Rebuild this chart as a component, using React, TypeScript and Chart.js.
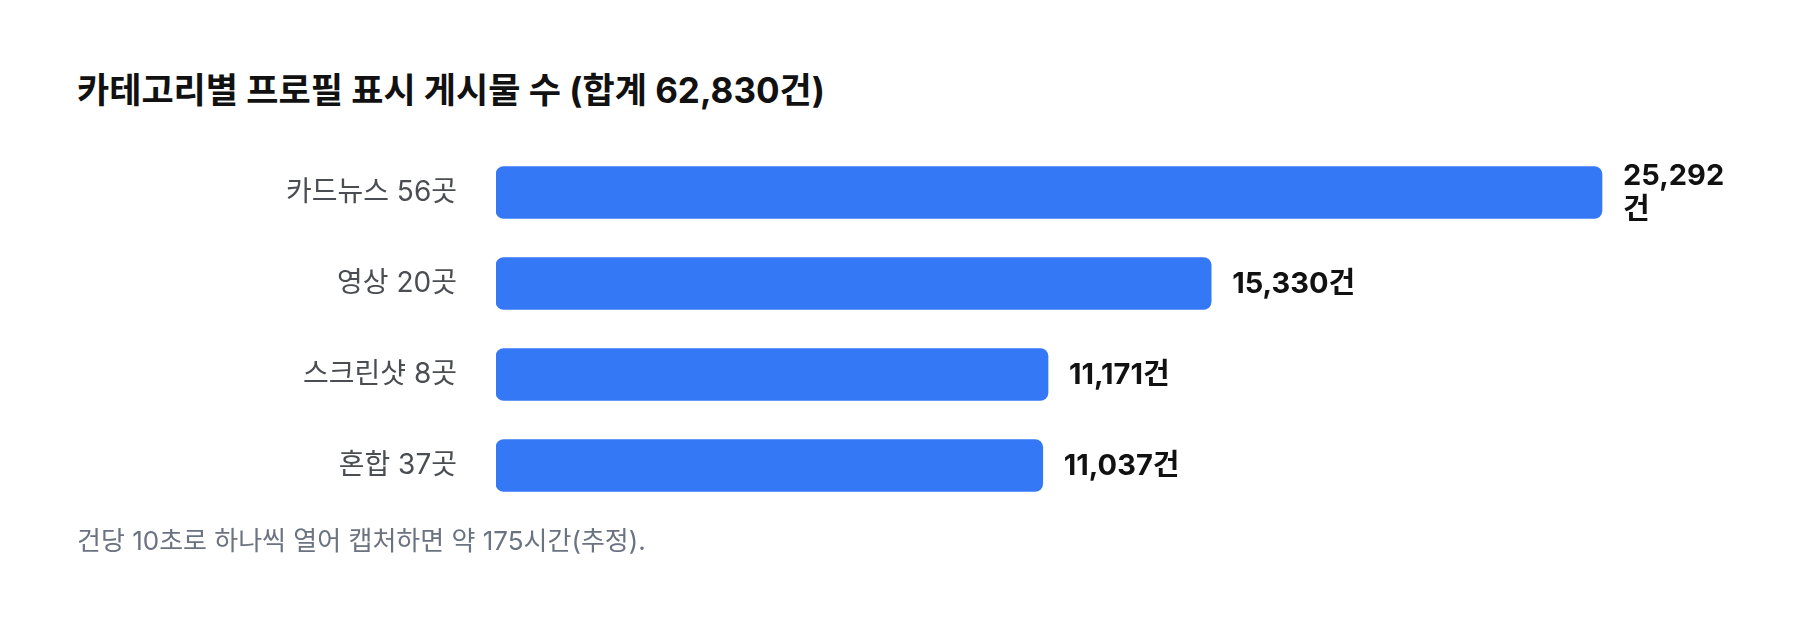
import React, { useEffect, useRef } from "react";
import { Chart, registerables } from "chart.js";

Chart.register(...registerables);

const categories: string[] = ["카드뉴스 56곳", "영상 20곳", "스크린샷 8곳", "혼합 37곳"];
const postCounts: number[] = [25292, 15330, 11171, 11037];
const titleText = "카테고리별 프로필 표시 게시물 수 (합계 62,830건)";
const footerText = "건당 10초로 하나씩 열어 캡처하면 약 175시간(추정).";
const valueSuffix = "건";

// hidden value-axis range (bars start at the axis minimum)
const axisMin = -2900;
const axisMax = 28300;

const FONT = 'Inter, "Noto Sans CJK KR", sans-serif';

const valueLabelPlugin = {
  id: "valueLabels",
  afterDatasetsDraw(chart: any) {
    const ctx = chart.ctx;
    const meta = chart.getDatasetMeta(0);
    ctx.save();
    ctx.font = `bold 29px ${FONT}`;
    ctx.fillStyle = "#111111";
    ctx.textBaseline = "middle";
    ctx.textAlign = "left";
    meta.data.forEach((bar: any, i: number) => {
      const num = postCounts[i].toLocaleString("en-US");
      const full = num + valueSuffix;
      const x = bar.x + 21;
      const y = bar.y;
      if (x + ctx.measureText(full).width > 1730) {
        ctx.fillText(num, x, y - 16);
        ctx.fillText(valueSuffix, x, y + 18);
      } else {
        ctx.fillText(full, x, y + 1);
      }
    });
    ctx.restore();
  },
};

export default function App() {
  const canvasRef = useRef<HTMLCanvasElement | null>(null);

  useEffect(() => {
    if (!canvasRef.current) return;
    const chart = new Chart(canvasRef.current, {
      type: "bar",
      data: {
        labels: categories,
        datasets: [
          {
            data: postCounts,
            base: axisMin,
            backgroundColor: "#3478f6",
            borderRadius: 8,
            borderSkipped: false,
            barThickness: 52,
          },
        ],
      },
      options: {
        indexAxis: "y",
        responsive: false,
        animation: false,
        events: [],
        layout: { padding: { top: 147, bottom: 113, left: 0, right: 80 } },
        plugins: {
          legend: { display: false },
          tooltip: { enabled: false },
          title: { display: false },
        },
        scales: {
          x: { display: false, min: axisMin, max: axisMax },
          y: {
            type: "category",
            grid: { display: false },
            border: { display: false },
            ticks: {
              padding: 31,
              color: "#4a4d52",
              font: { family: FONT, size: 28, weight: "normal" },
            },
            afterFit(scale: any) {
              scale.width = 496;
            },
          },
        },
      },
      plugins: [valueLabelPlugin],
    });
    return () => chart.destroy();
  }, []);

  return (
    <div style={{ position: "absolute", left: 0, top: 0, width: 1800, height: 624, background: "#ffffff" }}>
      <div
        style={{
          position: "absolute",
          left: 77,
          top: 70,
          fontFamily: FONT,
          fontWeight: 700,
          fontSize: 35,
          lineHeight: "40px",
          color: "#111111",
          whiteSpace: "nowrap",
        }}
      >
        {titleText}
      </div>
      <canvas ref={canvasRef} width={1800} height={624} style={{ position: "absolute", left: 0, top: 0 }} />
      <div
        style={{
          position: "absolute",
          left: 77,
          top: 525,
          fontFamily: FONT,
          fontSize: 26,
          lineHeight: "32px",
          color: "#6b7280",
          whiteSpace: "nowrap",
        }}
      >
        {footerText}
      </div>
    </div>
  );
}
